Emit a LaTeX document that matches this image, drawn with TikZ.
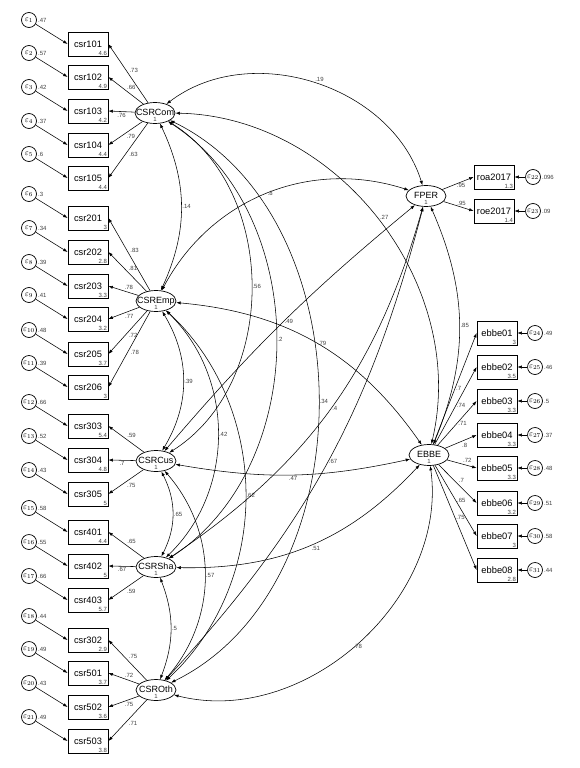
\documentclass[tikz,border=0pt]{standalone}
\usepackage{fontspec}
\setmainfont{Liberation Sans}
\usetikzlibrary{arrows.meta, shapes.geometric}

\begin{document}
\begin{tikzpicture}[
    x=1pt, y=1pt,
    >={Latex[length=4.5pt,width=3.2pt]},
    line width=0.55pt,
    obs/.style={draw, line width=0.7pt, minimum width=40pt, minimum height=24pt, inner sep=0pt, font=\fontsize{9.3}{10}\selectfont},
    lat/.style={draw, ellipse, fill=white, line width=0.7pt, minimum width=40pt, minimum height=21pt, inner sep=0pt, font=\fontsize{9}{10}\selectfont},
    err/.style={draw, circle, line width=0.7pt, minimum size=15pt, inner sep=0pt, font=\fontsize{8}{8}\selectfont},
    num/.style={font=\fontsize{6}{6}\selectfont, text=black!75, inner sep=1pt},
    icpt/.style={num, anchor=south east},
    evar/.style={num, anchor=west},
    upl/.style={num, anchor=south west},
    dnl/.style={num, anchor=north west},
    hzl/.style={num, anchor=north},
    cvl/.style={num, anchor=west},
]
\useasboundingbox (0,0) rectangle (580,-768);
% ----- latent factors
\node[lat] (CSRCom) at (155,-113) {\raisebox{2pt}{\makebox[0pt]{CSRCom}}};
\node[lat] (CSREmp) at (156,-301) {\raisebox{2pt}{\makebox[0pt]{CSREmp}}};
\node[lat] (CSRCus) at (156,-461) {\raisebox{2pt}{\makebox[0pt]{CSRCus}}};
\node[lat] (CSRSha) at (156,-567) {\raisebox{2pt}{\makebox[0pt]{CSRSha}}};
\node[lat] (CSROth) at (156,-690) {\raisebox{2pt}{\makebox[0pt]{CSROth}}};
\node[lat] (FPER) at (426,-196) {\raisebox{2pt}{\makebox[0pt]{FPER}}};
\node[lat] (EBBE) at (429,-455) {\raisebox{2pt}{\makebox[0pt]{EBBE}}};
\node[num] (one1) at ([yshift=4.5pt]CSRCom.south) {1};
\node[num] (one2) at ([yshift=4.5pt]CSREmp.south) {1};
\node[num] (one3) at ([yshift=4.5pt]CSRCus.south) {1};
\node[num] (one4) at ([yshift=4.5pt]CSRSha.south) {1};
\node[num] (one5) at ([yshift=4.5pt]CSROth.south) {1};
\node[num] (one6) at ([yshift=4.5pt]FPER.south) {1};
\node[num] (one7) at ([yshift=4.5pt]EBBE.south) {1};

% ----- CSR indicators with their errors
\node[obs] (csr101) at (88,-44) {csr101}; \node[icpt] (i101) at (csr101.south east) {4.6}; \node[err] (e1) at (29,-20) {$\varepsilon_{1}$}; \node[evar] (v1) at (e1.east) {.47};
\node[obs] (csr102) at (88,-77) {csr102}; \node[icpt] (i102) at (csr102.south east) {4.9}; \node[err] (e2) at (29,-53) {$\varepsilon_{2}$}; \node[evar] (v2) at (e2.east) {.57};
\node[obs] (csr103) at (88,-111) {csr103}; \node[icpt] (i103) at (csr103.south east) {4.2}; \node[err] (e3) at (29,-87) {$\varepsilon_{3}$}; \node[evar] (v3) at (e3.east) {.42};
\node[obs] (csr104) at (88,-145) {csr104}; \node[icpt] (i104) at (csr104.south east) {4.4}; \node[err] (e4) at (29,-121) {$\varepsilon_{4}$}; \node[evar] (v4) at (e4.east) {.37};
\node[obs] (csr105) at (88,-178) {csr105}; \node[icpt] (i105) at (csr105.south east) {4.4}; \node[err] (e5) at (29,-154) {$\varepsilon_{5}$}; \node[evar] (v5) at (e5.east) {.6};
\node[obs] (csr201) at (88,-218) {csr201}; \node[icpt] (i201) at (csr201.south east) {3}; \node[err] (e6) at (29,-194) {$\varepsilon_{6}$}; \node[evar] (v6) at (e6.east) {.3};
\node[obs] (csr202) at (88,-252) {csr202}; \node[icpt] (i202) at (csr202.south east) {2.8}; \node[err] (e7) at (29,-228) {$\varepsilon_{7}$}; \node[evar] (v7) at (e7.east) {.34};
\node[obs] (csr203) at (88,-286) {csr203}; \node[icpt] (i203) at (csr203.south east) {3.3}; \node[err] (e8) at (29,-262) {$\varepsilon_{8}$}; \node[evar] (v8) at (e8.east) {.39};
\node[obs] (csr204) at (88,-319) {csr204}; \node[icpt] (i204) at (csr204.south east) {3.2}; \node[err] (e9) at (29,-295) {$\varepsilon_{9}$}; \node[evar] (v9) at (e9.east) {.41};
\node[obs] (csr205) at (88,-354) {csr205}; \node[icpt] (i205) at (csr205.south east) {3.7}; \node[err] (e10) at (29,-330) {$\varepsilon_{10}$}; \node[evar] (v10) at (e10.east) {.48};
\node[obs] (csr206) at (88,-387) {csr206}; \node[icpt] (i206) at (csr206.south east) {3}; \node[err] (e11) at (29,-363) {$\varepsilon_{11}$}; \node[evar] (v11) at (e11.east) {.39};
\node[obs] (csr303) at (88,-426) {csr303}; \node[icpt] (i303) at (csr303.south east) {5.4}; \node[err] (e12) at (29,-402) {$\varepsilon_{12}$}; \node[evar] (v12) at (e12.east) {.66};
\node[obs] (csr304) at (88,-460) {csr304}; \node[icpt] (i304) at (csr304.south east) {4.8}; \node[err] (e13) at (29,-436) {$\varepsilon_{13}$}; \node[evar] (v13) at (e13.east) {.52};
\node[obs] (csr305) at (88,-494) {csr305}; \node[icpt] (i305) at (csr305.south east) {5}; \node[err] (e14) at (29,-470) {$\varepsilon_{14}$}; \node[evar] (v14) at (e14.east) {.43};
\node[obs] (csr401) at (88,-532) {csr401}; \node[icpt] (i401) at (csr401.south east) {4.4}; \node[err] (e15) at (29,-508) {$\varepsilon_{15}$}; \node[evar] (v15) at (e15.east) {.58};
\node[obs] (csr402) at (88,-566) {csr402}; \node[icpt] (i402) at (csr402.south east) {5}; \node[err] (e16) at (29,-542) {$\varepsilon_{16}$}; \node[evar] (v16) at (e16.east) {.55};
\node[obs] (csr403) at (88,-600) {csr403}; \node[icpt] (i403) at (csr403.south east) {5.7}; \node[err] (e17) at (29,-576) {$\varepsilon_{17}$}; \node[evar] (v17) at (e17.east) {.66};
\node[obs] (csr302) at (88,-640) {csr302}; \node[icpt] (i302) at (csr302.south east) {2.9}; \node[err] (e18) at (29,-616) {$\varepsilon_{18}$}; \node[evar] (v18) at (e18.east) {.44};
\node[obs] (csr501) at (88,-673) {csr501}; \node[icpt] (i501) at (csr501.south east) {3.7}; \node[err] (e19) at (29,-649) {$\varepsilon_{19}$}; \node[evar] (v19) at (e19.east) {.49};
\node[obs] (csr502) at (88,-707) {csr502}; \node[icpt] (i502) at (csr502.south east) {3.6}; \node[err] (e20) at (29,-683) {$\varepsilon_{20}$}; \node[evar] (v20) at (e20.east) {.43};
\node[obs] (csr503) at (88,-741) {csr503}; \node[icpt] (i503) at (csr503.south east) {3.8}; \node[err] (e21) at (29,-717) {$\varepsilon_{21}$}; \node[evar] (v21) at (e21.east) {.49};

% ----- FPER and EBBE indicators with their errors
\node[obs] (roa2017) at (494,-177) {roa2017}; \node[icpt] (iroa) at (roa2017.south east) {1.3}; \node[err] (e22) at (533,-177) {$\varepsilon_{22}$}; \node[evar] (v22) at (e22.east) {.096};
\node[obs] (roe2017) at (494,-211) {roe2017}; \node[icpt] (iroe) at (roe2017.south east) {1.4}; \node[err] (e23) at (533,-211) {$\varepsilon_{23}$}; \node[evar] (v23) at (e23.east) {.09};
\node[obs] (ebbe01) at (497,-333) {ebbe01}; \node[icpt] (ib1) at (ebbe01.south east) {3}; \node[err] (e24) at (535,-333) {$\varepsilon_{24}$}; \node[evar] (v24) at (e24.east) {.49};
\node[obs] (ebbe02) at (497,-367) {ebbe02}; \node[icpt] (ib2) at (ebbe02.south east) {3.5}; \node[err] (e25) at (535,-367) {$\varepsilon_{25}$}; \node[evar] (v25) at (e25.east) {.46};
\node[obs] (ebbe03) at (497,-401) {ebbe03}; \node[icpt] (ib3) at (ebbe03.south east) {3.3}; \node[err] (e26) at (535,-401) {$\varepsilon_{26}$}; \node[evar] (v26) at (e26.east) {.5};
\node[obs] (ebbe04) at (497,-435) {ebbe04}; \node[icpt] (ib4) at (ebbe04.south east) {3.3}; \node[err] (e27) at (535,-435) {$\varepsilon_{27}$}; \node[evar] (v27) at (e27.east) {.37};
\node[obs] (ebbe05) at (497,-468) {ebbe05}; \node[icpt] (ib5) at (ebbe05.south east) {3.3}; \node[err] (e28) at (535,-468) {$\varepsilon_{28}$}; \node[evar] (v28) at (e28.east) {.48};
\node[obs] (ebbe06) at (497,-503) {ebbe06}; \node[icpt] (ib6) at (ebbe06.south east) {3.2}; \node[err] (e29) at (535,-503) {$\varepsilon_{29}$}; \node[evar] (v29) at (e29.east) {.51};
\node[obs] (ebbe07) at (497,-536) {ebbe07}; \node[icpt] (ib7) at (ebbe07.south east) {3}; \node[err] (e30) at (535,-536) {$\varepsilon_{30}$}; \node[evar] (v30) at (e30.east) {.58};
\node[obs] (ebbe08) at (497,-570) {ebbe08}; \node[icpt] (ib8) at (ebbe08.south east) {2.8}; \node[err] (e31) at (535,-570) {$\varepsilon_{31}$}; \node[evar] (v31) at (e31.east) {.44};

% ----- error arrows
\draw[->] (e1) -- (csr101.west); \draw[->] (e2) -- (csr102.west); \draw[->] (e3) -- (csr103.west);
\draw[->] (e4) -- (csr104.west); \draw[->] (e5) -- (csr105.west); \draw[->] (e6) -- (csr201.west);
\draw[->] (e7) -- (csr202.west); \draw[->] (e8) -- (csr203.west); \draw[->] (e9) -- (csr204.west);
\draw[->] (e10) -- (csr205.west); \draw[->] (e11) -- (csr206.west); \draw[->] (e12) -- (csr303.west);
\draw[->] (e13) -- (csr304.west); \draw[->] (e14) -- (csr305.west); \draw[->] (e15) -- (csr401.west);
\draw[->] (e16) -- (csr402.west); \draw[->] (e17) -- (csr403.west); \draw[->] (e18) -- (csr302.west);
\draw[->] (e19) -- (csr501.west); \draw[->] (e20) -- (csr502.west); \draw[->] (e21) -- (csr503.west);
\draw[->] (e22) -- (roa2017.east); \draw[->] (e23) -- (roe2017.east);
\draw[->] (e24) -- (ebbe01.east); \draw[->] (e25) -- (ebbe02.east); \draw[->] (e26) -- (ebbe03.east);
\draw[->] (e27) -- (ebbe04.east); \draw[->] (e28) -- (ebbe05.east); \draw[->] (e29) -- (ebbe06.east);
\draw[->] (e30) -- (ebbe07.east); \draw[->] (e31) -- (ebbe08.east);

% ----- loadings
\draw[->] (CSRCom) -- node[upl] {.73} (csr101.east);
\draw[->] (CSRCom) -- node[upl] {.66} (csr102.east);
\draw[->] (CSRCom) -- node[hzl] {.76} (csr103.east);
\draw[->] (CSRCom) -- node[dnl] {.79} (csr104.east);
\draw[->] (CSRCom) -- node[dnl] {.63} (csr105.east);
\draw[->] (CSREmp) -- node[upl] {.83} (csr201.east);
\draw[->] (CSREmp) -- node[upl] {.81} (csr202.east);
\draw[->] (CSREmp) -- node[upl] {.78} (csr203.east);
\draw[->] (CSREmp) -- node[dnl] {.77} (csr204.east);
\draw[->] (CSREmp) -- node[dnl] {.72} (csr205.east);
\draw[->] (CSREmp) -- node[dnl] {.78} (csr206.east);
\draw[->] (CSRCus) -- node[upl] {.59} (csr303.east);
\draw[->] (CSRCus) -- node[hzl] {.7} (csr304.east);
\draw[->] (CSRCus) -- node[dnl] {.75} (csr305.east);
\draw[->] (CSRSha) -- node[upl] {.65} (csr401.east);
\draw[->] (CSRSha) -- node[hzl] {.67} (csr402.east);
\draw[->] (CSRSha) -- node[dnl] {.59} (csr403.east);
\draw[->] (CSROth) -- node[upl] {.75} (csr302.east);
\draw[->] (CSROth) -- node[upl] {.72} (csr501.east);
\draw[->] (CSROth) -- node[dnl] {.75} (csr502.east);
\draw[->] (CSROth) -- node[dnl] {.71} (csr503.east);
\draw[->] (FPER) -- node[num, anchor=north, pos=.6] {.95} (roa2017.west);
\draw[->] (FPER) -- node[num, anchor=south, pos=.6] {.95} (roe2017.west);
\draw[->] (EBBE) -- node[cvl] {.7} (ebbe01.west);
\draw[->] (EBBE) -- node[cvl] {.74} (ebbe02.west);
\draw[->] (EBBE) -- node[cvl] {.71} (ebbe03.west);
\draw[->] (EBBE) -- node[dnl] {.8} (ebbe04.west);
\draw[->] (EBBE) -- node[upl] {.72} (ebbe05.west);
\draw[->] (EBBE) -- node[upl] {.7} (ebbe06.west);
\draw[->] (EBBE) -- node[cvl] {.65} (ebbe07.west);
\draw[->] (EBBE) -- node[cvl] {.75} (ebbe08.west);

% ----- covariances among the CSR factors
\draw[<->] (CSRCom) to[bend left=25] node[cvl] {.14} (CSREmp);
\draw[<->] (CSREmp) to[bend left=31] node[cvl] {.39} (CSRCus);
\draw[<->] (CSRCus) to[bend left=27] node[cvl] {.65} (CSRSha);
\draw[<->] (CSRSha) to[bend left=21] node[cvl] {.5} (CSROth);
\draw[<->] (CSRCom) to[bend left=58] node[cvl] {.56} (CSRCus);
\draw[<->] (CSREmp) to[bend left=46] node[cvl] {.42} (CSRSha);
\draw[<->] (CSRCus) to[bend left=41] node[cvl] {.57} (CSROth);
\draw[<->] (CSRCom) to[bend left=57] node[cvl] {.2} (CSRSha);
\draw[<->] (CSREmp) to[bend left=47] node[cvl] {.62} (CSROth);
\draw[<->] (CSRCom) to[bend left=64] node[cvl] {.34} (CSROth);
% ----- covariances with FPER and EBBE
\draw[<->] (CSRCom) to[bend left=55] node[upl] {.19} (FPER);
\draw[<->] (CSREmp) to[bend left=40] node[cvl] {.8} (FPER);
\draw[<->] (CSRCus) to[bend left=5] node[cvl] {.49} (FPER);
\draw[<->] (CSRSha) to[bend right=20] node[cvl] {.4} (FPER);
\draw[<->] (CSROth) to[bend right=14] node[cvl] {.67} (FPER);
\draw[<->] (CSRCom) to[bend left=51] node[upl] {.27} (EBBE);
\draw[<->] (CSREmp) to[bend left=25] node[cvl] {.79} (EBBE);
\draw[<->] (CSRCus) to[bend right=11] node[hzl] {.47} (EBBE);
\draw[<->] (CSRSha) to[bend right=24] node[dnl] {.51} (EBBE);
\draw[<->] (CSROth) to[bend right=56] node[hzl] {.78} (EBBE);
\draw[<->] (FPER) to[bend left=23] node[cvl] {.85} (EBBE);
\end{tikzpicture}
\end{document}
